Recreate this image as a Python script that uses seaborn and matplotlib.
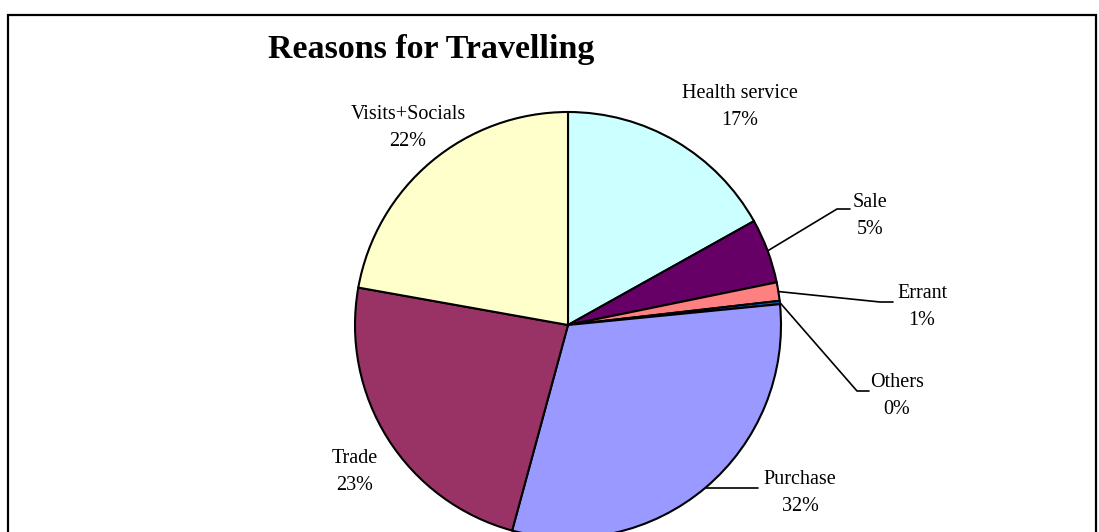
import numpy as np
import matplotlib
matplotlib.use("Agg")
import matplotlib.pyplot as plt
import seaborn as sns

# ---- data ----
categories = ["Health service", "Sale", "Errant", "Others", "Purchase", "Trade", "Visits+Socials"]
values = [16.9, 4.9, 1.4, 0.25, 30.8, 23.6, 22.2]
pct_labels = ["17%", "5%", "1%", "0%", "32%", "23%", "22%"]
colors = ["#CCFFFF", "#660066", "#FF8080", "#0066CC", "#9999FF", "#993366", "#FFFFCC"]
title = "Reasons for Travelling"

sns.set_theme(style="white")
plt.rcParams["font.family"] = ["Liberation Serif", "DejaVu Serif"]
plt.rcParams["text.color"] = "black"

W, H = 1099, 532
fig = plt.figure(figsize=(W / 100, H / 100), dpi=100)
ax = fig.add_axes([0, 0, 1, 1])

def py(y):  # pixel y (from top) -> data y
    return H - y

cx, cy, R = 568, py(325), 213
wedges, _ = ax.pie(values, colors=colors, startangle=90, counterclock=False,
                   center=(cx, cy), radius=R, frame=True,
                   wedgeprops=dict(edgecolor="black", linewidth=1.5))
ax.set_xlim(0, W)
ax.set_ylim(0, H)
ax.set_aspect("equal")
ax.axis("off")

# frame
ax.plot([8, 8, 1096, 1096], [-5, py(15), py(15), -5], color="black", lw=1.6,
        solid_joinstyle="miter", clip_on=False)

# title
ax.text(431, py(58), title, fontsize=24.5, fontweight="bold", ha="center",
        va="baseline", color="black")

# label positions (center of the two-line label) and optional leader elbows
label_pos = {
    "Health service": (740, 107, None),
    "Sale": (870, 216, (837, 209, 850)),
    "Errant": (922, 307, (880, 302, 893)),
    "Others": (897, 396, (857, 391, 869)),
    "Purchase": (800, 493, (None, 487, 758)),
    "Trade": (355, 472, None),
    "Visits+Socials": (408, 128, None),
}

for w, cat, pct in zip(wedges, categories, pct_labels):
    lx, ly, leader = label_pos[cat]
    ax.text(lx, py(ly), f"{cat}\n{pct}", fontsize=14.5, ha="center", va="center",
            linespacing=1.6, color="black")
    if leader is not None:
        ang = np.deg2rad((w.theta1 + w.theta2) / 2)
        sx, sy = cx + R * np.cos(ang), cy + R * np.sin(ang)
        ex, ey, hx = leader
        if ex is None:
            ax.plot([sx, hx], [sy, sy], color="black", lw=1.2)
        else:
            ax.plot([sx, ex, hx], [sy, py(ey), py(ey)], color="black", lw=1.2)

fig.savefig("out.png", dpi=100)
